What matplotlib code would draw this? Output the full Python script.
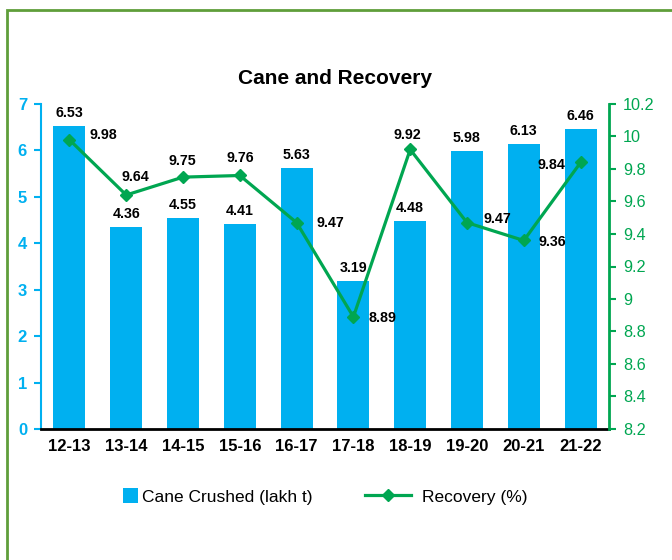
import matplotlib.pyplot as plt
from matplotlib.patches import Rectangle
from matplotlib.legend_handler import HandlerPatch

plt.rcParams['font.family'] = ['Liberation Sans', 'DejaVu Sans']

# data
seasons = ['12-13', '13-14', '14-15', '15-16', '16-17', '17-18', '18-19', '19-20', '20-21', '21-22']
cane = [6.53, 4.36, 4.55, 4.41, 5.63, 3.19, 4.48, 5.98, 6.13, 6.46]
recovery = [9.98, 9.64, 9.75, 9.76, 9.47, 8.89, 9.92, 9.47, 9.36, 9.84]

# label offsets (pixels) for recovery values
rec_off = [(34, 5), (9, 18), (-1, 16), (1, 17), (34, 0), (29, -1), (-3, 14), (30, 4), (29, -2), (-29, -3)]

blue = '#00B0F0'
green = '#00A651'

fig = plt.figure(figsize=(6.72, 5.6), dpi=100)
# green frame (only top/left visible)
fig.patches.append(Rectangle((7/672, -0.1), 1.2, 1 - 10/560 + 0.1, transform=fig.transFigure,
                             fill=False, edgecolor='#5f9e3a', linewidth=2))

ax = fig.add_axes([41/672, 1 - 429/560, (609 - 41)/672, (429 - 104)/560])
x = list(range(len(seasons)))
bars = ax.bar(x, cane, width=0.56, color=blue, label='Cane Crushed (lakh t)', zorder=2)
for b, v in zip(bars, cane):
    ax.annotate(f'{v:.2f}', (b.get_x() + b.get_width()/2, v), xytext=(0, 13), textcoords='offset pixels',
                ha='center', va='center', fontsize=10.3, fontweight='bold')

ax.set_xlim(-0.5, 9.5)
ax.set_ylim(0, 7)
ax.set_yticks(range(8))
ax.set_xticks(x)
ax.set_xticklabels(seasons, fontsize=12, fontweight='bold')
ax.tick_params(axis='x', length=0, pad=7)
ax.tick_params(axis='y', colors=blue, labelsize=12, length=5, width=1.5, pad=5)
for lab in ax.get_yticklabels():
    lab.set_fontweight('bold')
ax.spines['top'].set_visible(False)
ax.spines['right'].set_visible(False)
ax.spines['left'].set_color(blue)
ax.spines['left'].set_linewidth(1.5)
ax.spines['bottom'].set_color('black')
ax.spines['bottom'].set_linewidth(2)

ax2 = ax.twinx()
line, = ax2.plot(x, recovery, color=green, linewidth=2.3, marker='D', markersize=6.5,
                 label='Recovery (%)', zorder=3)
for xi, v, (dx, dy) in zip(x, recovery, rec_off):
    ax2.annotate(f'{v:.2f}', (xi, v), xytext=(dx, dy), textcoords='offset pixels',
                 ha='center', va='center', fontsize=10.3, fontweight='bold')
ax2.set_ylim(8.2, 10.2)
ax2.set_yticks([8.2, 8.4, 8.6, 8.8, 9.0, 9.2, 9.4, 9.6, 9.8, 10.0, 10.2])
ax2.set_yticklabels(['8.2', '8.4', '8.6', '8.8', '9', '9.2', '9.4', '9.6', '9.8', '10', '10.2'])
ax2.tick_params(axis='y', colors=green, labelsize=11.7, length=5, width=1.5, pad=5)
for s in ['top', 'left', 'bottom']:
    ax2.spines[s].set_visible(False)
ax2.spines['right'].set_color(green)
ax2.spines['right'].set_linewidth(2)

fig.text(335/672, 1 - 78/560, 'Cane and Recovery', ha='center', va='center', fontsize=15, fontweight='bold')


# square legend key for the bars
def square_key(legend, orig_handle, xdescent, ydescent, width, height, fontsize):
    s = 11.5
    return Rectangle((width - s + 5, -ydescent + (height - s) / 2), s, s)


fig.legend([bars.patches[0], line], ['Cane Crushed (lakh t)', 'Recovery (%)'], loc='center',
           bbox_to_anchor=(306/672, 1 - 497/560), ncol=2, frameon=False, fontsize=12.5,
           columnspacing=3.0, handlelength=2.7, handletextpad=0.6,
           handler_map={Rectangle: HandlerPatch(patch_func=square_key)})

fig.savefig('out.png', dpi=100)
